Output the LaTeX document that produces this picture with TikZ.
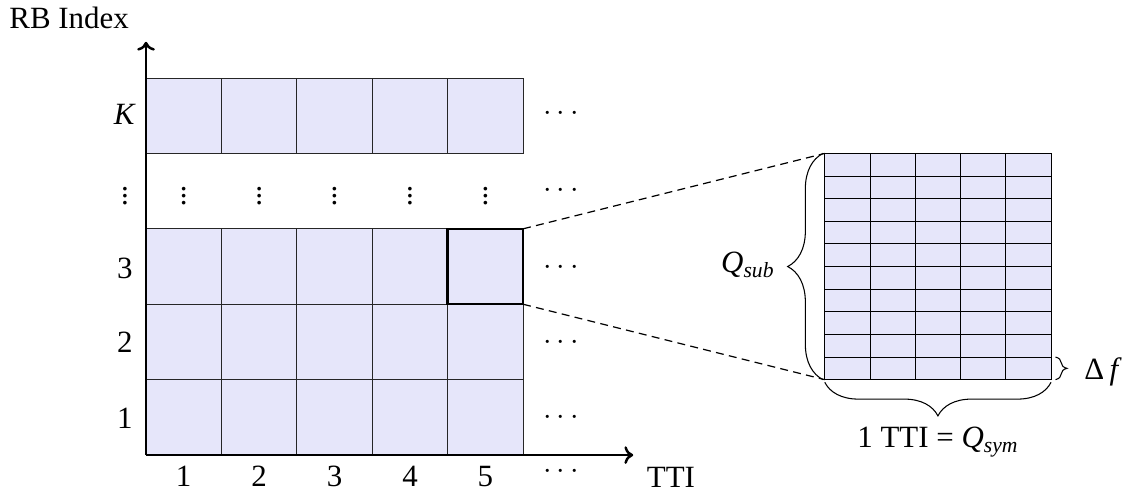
\documentclass[tikz,border=0pt]{standalone}
\usepackage{fontspec}
\setmainfont{Liberation Serif}
\usetikzlibrary{arrows.meta,positioning,decorations.pathreplacing}
\definecolor{rbfill}{RGB}{230,230,250}

\begin{document}
\begin{tikzpicture}[x=1.5cm, y=1.5cm, font=\fontsize{17.5}{21}\selectfont,
    cell/.style={fill=rbfill, draw=black!85, line width=0.5pt},
    axis/.style={line width=1.4pt, -{To[length=5pt,width=10pt]}},
    zoomline/.style={line width=0.7pt, dash pattern=on 4.5pt off 3pt},
    brc/.style={decorate, line width=0.6pt}]
  \useasboundingbox (-1.936,-0.53) rectangle (13.06,6.034);
  % resource blocks per TTI
  \foreach \c in {0,...,4} {
    \foreach \r in {0,1,2,4} \draw[cell] (\c,\r) rectangle ++(1,1);
    \node (dots\c) at (\c+0.5,3.5) {$\vdots$};
    \node (tti\c) at (\c+0.5,-0.28) {\the\numexpr\c+1\relax};
  }
  \draw[line width=1.4pt] (4,2) rectangle (5,3);
  \coordinate (hl-ne) at (5,3);
  \coordinate (hl-se) at (5,2);
  % axes
  \coordinate (o) at (0,0);
  \draw[axis] (o) -- (0,5.48) coordinate (ytop);
  \draw[axis] (o) -- (6.46,0) coordinate (xend);
  \node (rbidx) at (-1.02,5.8) {RB Index};
  \node (ttilbl) at (6.96,-0.3) {TTI};
  % row labels and continuation dots
  \foreach \y/\t [count=\i] in {0.49/1, 1.49/2, 2.48/3, 3.5/$\vdots$, 4.52/\textit{K}} {
    \node (row\i) at (-0.28,\y) {\t};
  }
  \foreach \y [count=\i] in {-0.22, 0.49, 1.49, 2.48, 3.5, 4.52}
    \node (more\i) at (5.5,\y) {$\cdots$};
  % zoomed block: subcarriers x symbols
  \fill[rbfill] (9,1) rectangle (12,4);
  \foreach \k in {0,...,10} \draw[line width=0.5pt] (9,1+0.3*\k) -- (12,1+0.3*\k);
  \foreach \k in {0,...,5} \draw[line width=0.5pt] (9+0.6*\k,1) -- (9+0.6*\k,4);
  \coordinate (sub-nw) at (9,4);
  \coordinate (sub-sw) at (9,1);
  \coordinate (sub-se) at (12,1);
  \draw[zoomline] (hl-ne) -- (sub-nw);
  \draw[zoomline] (hl-se) -- (sub-sw);
  % braces
  \draw[brc, decoration={brace, amplitude=20pt, raise=1pt}] (sub-sw) -- (sub-nw);
  \node (qsub) at (7.98,2.52) {\textit{Q}\textsubscript{\textit{sub}}};
  \draw[brc, decoration={brace, amplitude=19pt, raise=1.5pt}] (sub-se) -- (sub-sw);
  \node (qsym) at (10.5,0.17) {1 TTI = \textit{Q}\textsubscript{\textit{sym}}};
  \draw[brc, decoration={brace, amplitude=6.5pt, raise=2.5pt}] (12,1.3) -- (sub-se);
  \node (df) at (12.69,1.1) {Δ\,\textit{f}};
\end{tikzpicture}
\end{document}
